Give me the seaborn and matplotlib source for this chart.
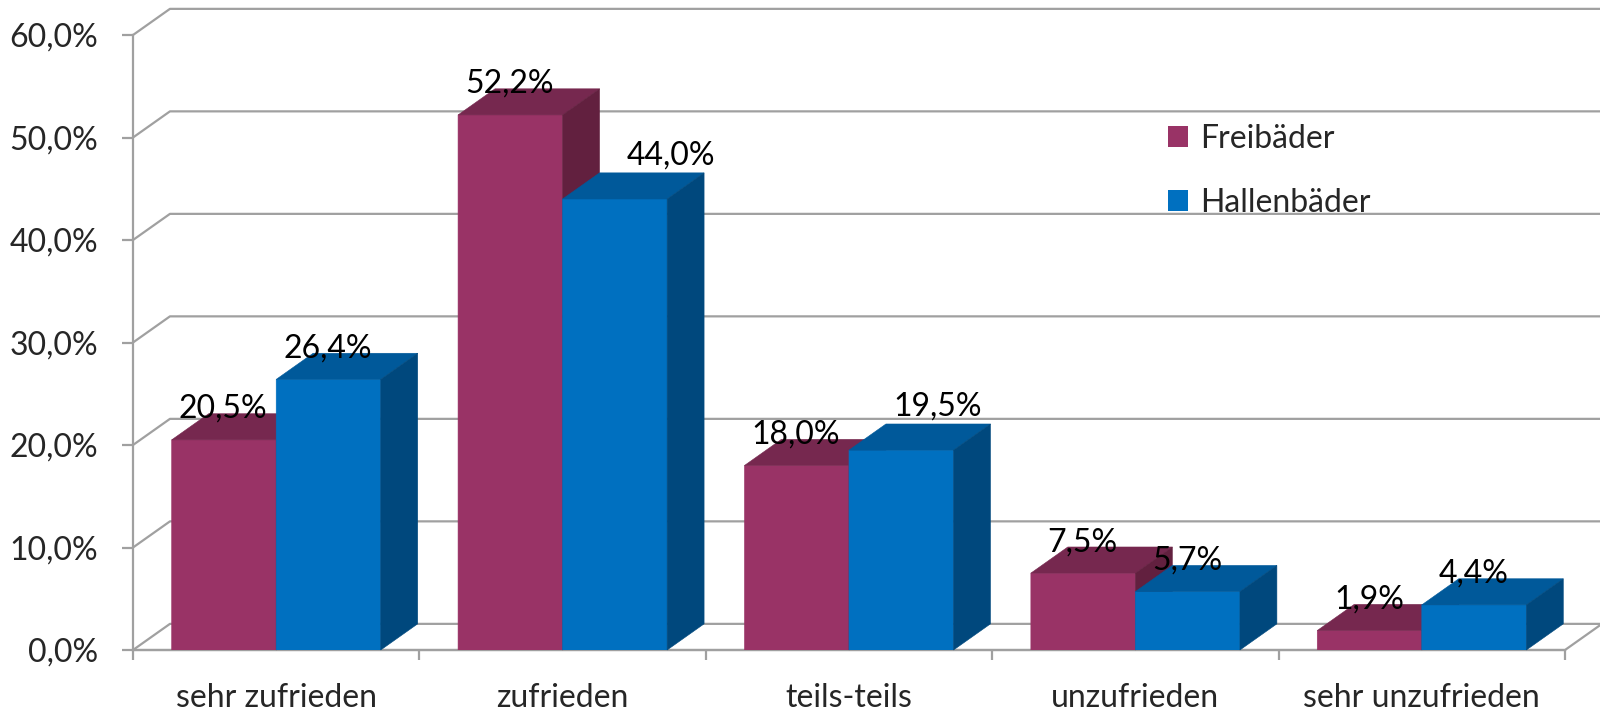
import pandas as pd
import matplotlib.pyplot as plt
import seaborn as sns
from matplotlib.patches import Polygon, Patch
from matplotlib.ticker import FuncFormatter

categories = ["sehr zufrieden", "zufrieden", "teils-teils", "unzufrieden", "sehr unzufrieden"]
series = ["Freibäder", "Hallenbäder"]
freibaeder = [20.5, 52.2, 18.0, 7.5, 1.9]
hallenbaeder = [26.4, 44.0, 19.5, 5.7, 4.4]

front = {"Freibäder": "#993366", "Hallenbäder": "#0070C0"}
top = {"Freibäder": "#76284F", "Hallenbäder": "#00599A"}
side = {"Freibäder": "#62203F", "Hallenbäder": "#00487D"}

# label nudges in points (a couple of labels are pushed aside in the original)
nudge = {("Hallenbäder", 1): (41, 9), ("Hallenbäder", 2): (27, 9)}

df = pd.DataFrame({
    "Kategorie": categories * 2,
    "Bad": [series[0]] * 5 + [series[1]] * 5,
    "Wert": freibaeder + hallenbaeder,
})

FONT = "Lato"
FS = 23
GRID = "#A0A0A0"
DX, DY = 0.129, 2.55  # depth of the fake 3D look, in data units

sns.set_theme(style="white")
plt.rcParams["font.family"] = [FONT, "DejaVu Sans"]

fig = plt.figure(figsize=(16, 7.12), dpi=100)
ax = fig.add_axes([133 / 1600, 1 - 650 / 712, (1565 - 133) / 1600, (650 - 35) / 712])

sns.barplot(data=df, x="Kategorie", y="Wert", hue="Bad", hue_order=series,
            palette=front, saturation=1, width=0.73, legend=False, ax=ax)

ax.set_xlim(-0.5, 4.5)
ax.set_ylim(0, 60)

# back wall gridlines
for y in range(0, 61, 10):
    ax.plot([-0.5, -0.5 + DX, 4.5 + DX + 0.2], [y, y + DY, y + DY],
            color=GRID, lw=1.6, zorder=0.5, clip_on=False, solid_capstyle="butt")
ax.plot([-0.5, 4.5, 4.5 + DX], [0, 0, DY], color=GRID, lw=1.6, zorder=0.5, clip_on=False)

# 3D faces
for k, (cont, name) in enumerate(zip(ax.containers, series)):
    z = 2 + k
    for i, p in enumerate(cont.patches):
        x0, w, h = p.get_x(), p.get_width(), p.get_height()
        p.set_zorder(z)
        p.set_snap(False)
        p.set_edgecolor(front[name])
        p.set_linewidth(0.4)
        t = Polygon([(x0, h), (x0 + w, h), (x0 + w + DX, h + DY), (x0 + DX, h + DY)],
                    closed=True, fc=top[name], ec=top[name], lw=0.4, zorder=z, clip_on=False)
        s = Polygon([(x0 + w, 0), (x0 + w + DX, DY), (x0 + w + DX, h + DY), (x0 + w, h)],
                    closed=True, fc=side[name], ec=side[name], lw=0.4, zorder=z, clip_on=False)
        ax.add_patch(t)
        ax.add_patch(s)
        ox, oy = nudge.get((name, i), (0, 0))
        ax.annotate(f"{h:.1f}%".replace(".", ","), (x0 + w / 2, h),
                    xytext=(-0.5 + ox, 15.8 + oy), textcoords="offset points",
                    ha="center", va="baseline", fontsize=FS, color="black",
                    zorder=10, annotation_clip=False)

for sp in ["top", "right"]:
    ax.spines[sp].set_visible(False)
for sp in ["left", "bottom"]:
    ax.spines[sp].set_color(GRID)
    ax.spines[sp].set_linewidth(1.6)
    ax.spines[sp].set_zorder(1)

ax.set_yticks(range(0, 61, 10))
ax.yaxis.set_major_formatter(FuncFormatter(lambda v, _: f"{v:.1f}%".replace(".", ",")))
ax.set_xticks([-0.5, 0.5, 1.5, 2.5, 3.5, 4.5], minor=False)
ax.set_xticklabels([])
ax.set_xticks(range(5), minor=True)
ax.set_xticklabels(categories, minor=True)
ax.tick_params(axis="x", which="major", bottom=True, length=7.5, width=1.6, color=GRID)
ax.tick_params(axis="x", which="minor", bottom=False, length=0, pad=24, labelsize=FS)
ax.tick_params(axis="y", left=True, length=8, width=1.6, color=GRID, pad=17, labelsize=FS)
ax.set_xlabel("")
ax.set_ylabel("")

handles = [Patch(facecolor=front[n], edgecolor="none", label=n) for n in series]
fig.legend(handles=handles, loc="upper left", bbox_to_anchor=(1152 / 1600, 1 - 108 / 712),
           frameon=False, fontsize=FS, handlelength=0.62, handleheight=0.62,
           handletextpad=0.4, labelspacing=1.05, borderpad=0)

fig.savefig("out.png", dpi=100)
